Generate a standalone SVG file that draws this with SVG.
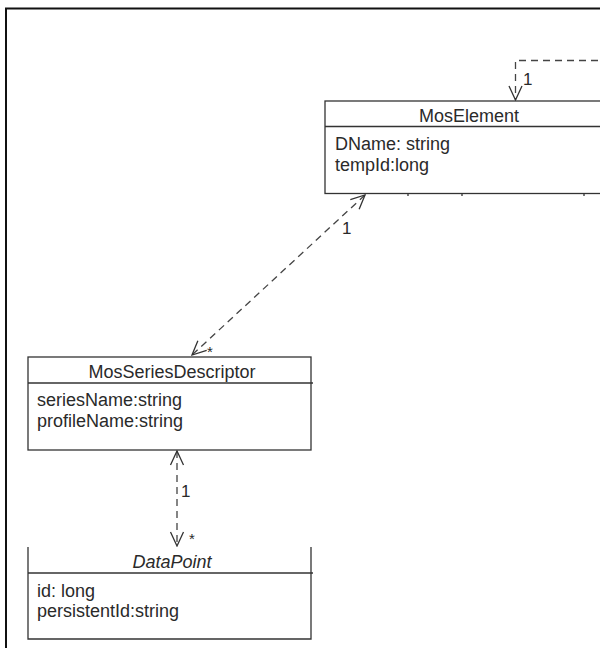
<svg xmlns="http://www.w3.org/2000/svg" width="600" height="648" viewBox="0 0 600 648">
<style>
.box{fill:#fff;stroke:#333;stroke-width:1.3}
.ln{stroke:#333;stroke-width:1.3;fill:none}
.t{font-family:"Liberation Sans",Arial,sans-serif;font-size:18px;fill:#2a2a2a}
.c{text-anchor:middle}
.i{font-style:italic}
.conn{stroke:#444;stroke-width:1.3;fill:none;stroke-dasharray:7,5}
.lbl{font-family:"Liberation Sans",Arial,sans-serif;font-size:17px;fill:#2a2a2a}
.st{font-family:"Liberation Sans",Arial,sans-serif;font-size:15px;fill:#2a2a2a}
</style>
<defs>
<marker id="open" viewBox="0 0 16 16" refX="15" refY="8" markerWidth="16" markerHeight="16" markerUnits="userSpaceOnUse" orient="auto-start-reverse">
<path d="M1,1.5 L15,8 L1,14.5" fill="none" stroke="#333" stroke-width="1.3"/>
</marker>
</defs>
<rect width="600" height="648" fill="#fff"/>
<path d="M6,660 L6,8.5 L610,8.5" fill="none" stroke="#111" stroke-width="2"/>
<g id="MosElement">
<rect class="box" x="325" y="101" width="290" height="92.5"/>
<line class="ln" x1="325" y1="126.5" x2="615" y2="126.5"/>
<text class="t c" x="469" y="122">MosElement</text>
<text class="t" x="335" y="150">DName: string</text>
<text class="t" x="335" y="171">tempId:long</text>
<path class="ln" d="M408,193.5v2.5M462,193.5v2.5M584,193.5v2.5"/>
</g>
<g id="MosSeriesDescriptor">
<rect class="box" x="28" y="357" width="283" height="93"/>
<line class="ln" x1="28" y1="383" x2="313" y2="383"/>
<text class="t c" x="172" y="378">MosSeriesDescriptor</text>
<text class="t" x="37" y="406">seriesName:string</text>
<text class="t" x="37" y="427">profileName:string</text>
</g>
<g id="DataPoint">
<path class="ln" d="M28,547 V639 H311 V547"/>
<line class="ln" x1="28" y1="573" x2="313" y2="573"/>
<text class="t c i" x="172" y="568">DataPoint</text>
<text class="t" x="37" y="597">id: long</text>
<text class="t" x="37" y="617">persistentId:string</text>
</g>
<g id="connectors">
<path class="conn" d="M610,60.5 H515.5 V100" marker-end="url(#open)"/>
<text class="lbl" x="523" y="85">1</text>
<path class="conn" d="M365,195 L192,355" marker-start="url(#open)" marker-end="url(#open)"/>
<text class="lbl" x="342" y="234">1</text>
<text class="st" x="207" y="357">*</text>
<path class="conn" d="M177,451 V546" marker-start="url(#open)" marker-end="url(#open)"/>
<text class="lbl" x="181" y="497">1</text>
<text class="st" x="189" y="544">*</text>
</g>
</svg>
